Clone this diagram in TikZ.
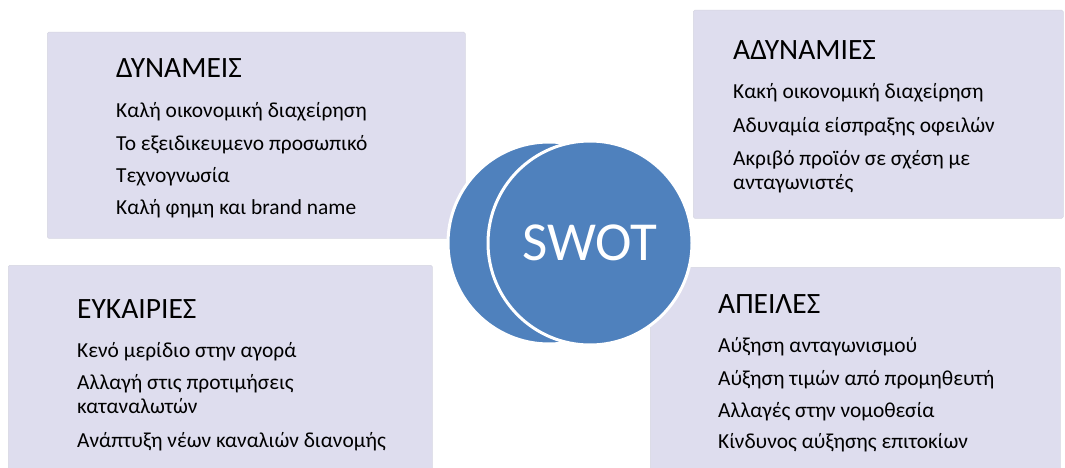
\documentclass[tikz,border=0pt]{standalone}
\usepackage{fontspec}
\setmainfont{Carlito}
\definecolor{boxfill}{RGB}{222,221,238}
\definecolor{boxedge}{RGB}{214,214,226}
\definecolor{swotblue}{RGB}{79,129,189}
\begin{document}
\begin{tikzpicture}[x=1pt,y=-1pt,
  quad/.style={draw=boxedge, line width=0.5pt, fill=boxfill, rounded corners=1.5pt, anchor=north west, inner sep=0pt},
  ttl/.style={anchor=base west, inner sep=0pt, font=\fontsize{29.5}{33}\selectfont},
  item/.style={anchor=base west, inner sep=0pt, align=left, font=\fontsize{21.4}{24}\selectfont},
  ring/.style={circle, fill=swotblue, draw=white, line width=3pt, minimum size=204pt, inner sep=0pt}]
\useasboundingbox (0,0) rectangle (1065,468);
\fill[white] (0,0) rectangle (1065,468);
% quadrant boxes
\node[quad, minimum width=418pt, minimum height=206pt] (S) at (47,32) {};
\node[quad, minimum width=370pt, minimum height=208pt] (W) at (693,10) {};
\node[quad, minimum width=424pt, minimum height=215pt] (O) at (8,265) {};
\node[quad, minimum width=410pt, minimum height=215pt] (T) at (650,267) {};
% centre circles
\node[ring, minimum size=202pt] (back) at (549,243) {};
\node[ring, text=white, font=\fontsize{55}{60}\selectfont] (swot) at (590,243) {SWOT};
% strengths
\node[ttl] (sT) at (116,78) {ΔΥΝΑΜΕΙΣ};
\node[item] (s1) at (116,118) {Καλή οικονομική διαχείρηση};
\node[item] (s2) at (116,150) {Το εξειδικευμενο προσωπικό};
\node[item] (s3) at (116,182) {Τεχνογνωσία};
\node[item] (s4) at (116,214) {Καλή φημη και brand name};
% weaknesses
\node[ttl] (wT) at (733,60) {ΑΔΥΝΑΜΙΕΣ};
\node[item] (w1) at (733,99) {Κακή οικονομική διαχείρηση};
\node[item] (w2) at (733,132) {Αδυναμία είσπραξης οφειλών};
\node[item] (w3) at (733,165) {Ακριβό προϊόν σε σχέση με};
\node[item] (w3b) at (733,189) {ανταγωνιστές};
% opportunities
\node[ttl] (oT) at (77,318) {ΕΥΚΑΙΡΙΕΣ};
\node[item] (o1) at (77,357) {Κενό μερίδιο στην αγορά};
\node[item] (o2) at (77,389) {Αλλαγή στις προτιμήσεις};
\node[item] (o2b) at (77,413) {καταναλωτών};
\node[item] (o3) at (77,447) {Ανάπτυξη νέων καναλιών διανομής};
% threats
\node[ttl] (tT) at (718,313) {ΑΠΕΙΛΕΣ};
\node[item] (t1) at (718,352) {Αύξηση ανταγωνισμού};
\node[item] (t2) at (718,385) {Αύξηση τιμών από προμηθευτή};
\node[item] (t3) at (718,417) {Αλλαγές στην νομοθεσία};
\node[item] (t4) at (718,448) {Κίνδυνος αύξησης επιτοκίων};
\end{tikzpicture}
\end{document}
